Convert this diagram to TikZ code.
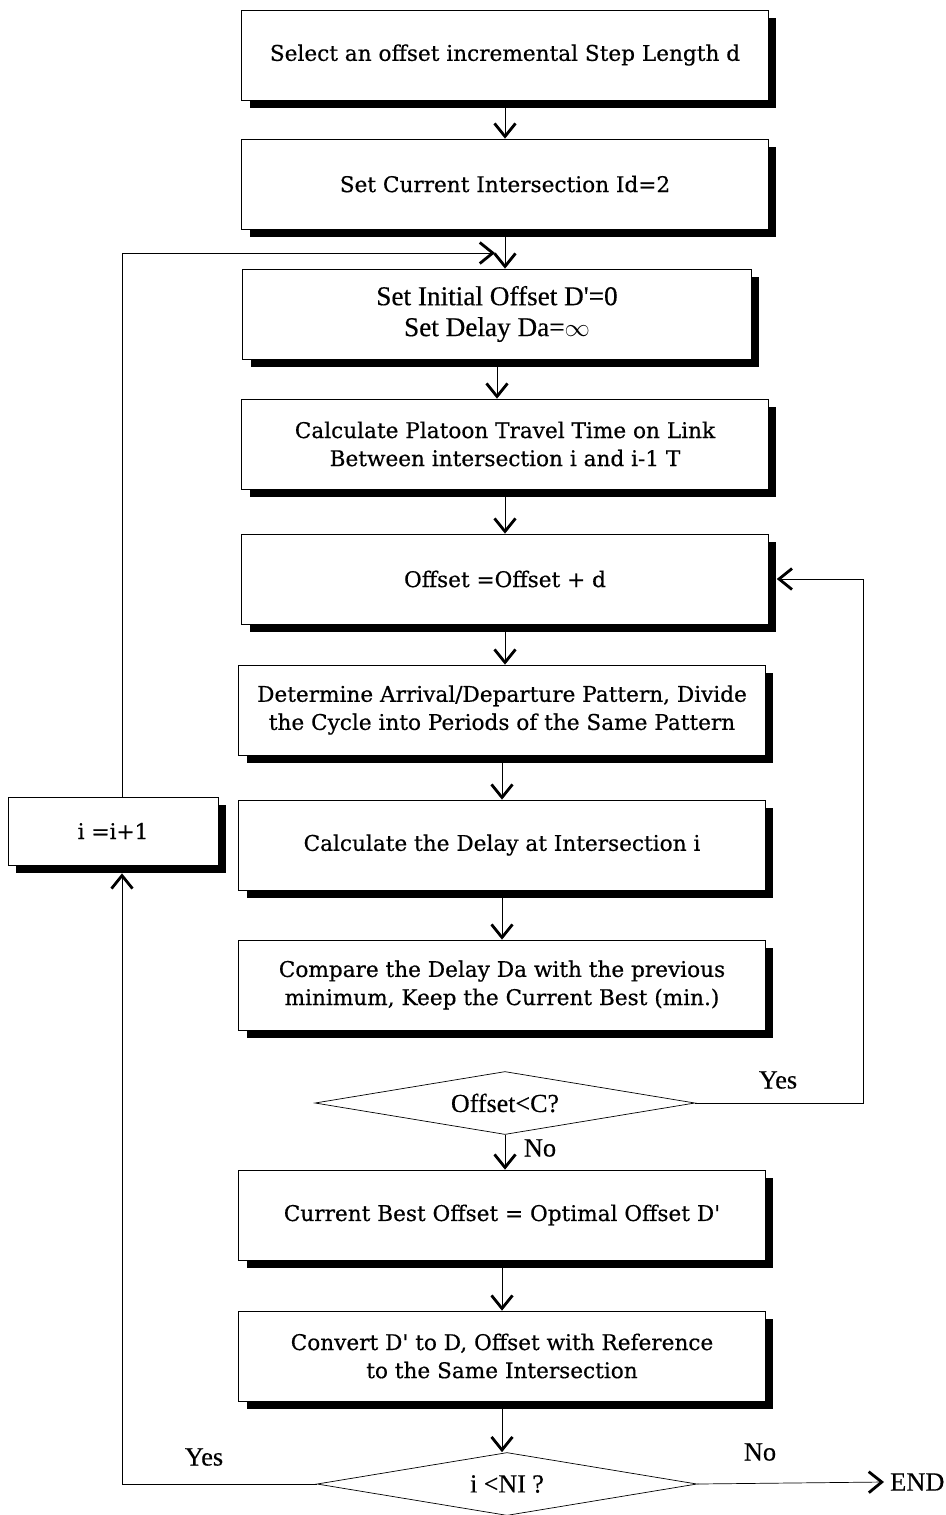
\documentclass[tikz,border=0pt]{standalone}
\usepackage{fontspec}
\setmainfont{DejaVu Serif}[Ligatures=TeXOff,FakeBold=0.5]
\newfontfamily\timesfont{Liberation Serif}[Ligatures=TeXOff,FakeBold=0.4]
\usetikzlibrary{shapes.geometric,shadows,arrows.meta}
\begin{document}
\begin{tikzpicture}[x=0.02cm,y=-0.02cm,
  stepbox/.style={draw,thin,fill=white,align=center,minimum width=10.54cm,minimum height=1.8cm,
    font=\fontsize{12.3}{16}\selectfont,
    drop shadow={shadow xshift=0.16cm,shadow yshift=-0.16cm,fill=black,opacity=1}},
  test/.style={draw,thin,diamond,aspect=6,minimum width=7.6cm,minimum height=1.26cm,inner sep=0pt,
    font=\timesfont\fontsize{14.8}{17}\selectfont},
  flow/.style={thin,-{Straight Barb[length=2.6mm,width=4.2mm,line width=1.6pt]}},
  lbl/.style={font=\timesfont\fontsize{15}{17}\selectfont}]
\useasboundingbox (0,0) rectangle (946,1515);
\node[stepbox] (sel) at (505,55) {Select an offset incremental Step Length d};
\node[stepbox] (cur) at (505,184) {Set Current Intersection Id=2};
\node[stepbox,minimum width=10.18cm,font=\timesfont\fontsize{15.5}{17.6}\selectfont] (init) at (497,314)
  {Set Initial Offset D'=0\\Set Delay Da=$\infty$};
\node[stepbox] (trav) at (505,444) {Calculate Platoon Travel Time on Link\\Between intersection i and i-1 T};
\node[stepbox] (offs) at (505,579) {Offset =Offset + d};
\node[stepbox] (patt) at (502,710) {Determine Arrival/Departure Pattern, Divide\\the Cycle into Periods of the Same Pattern};
\node[stepbox] (dly) at (502,845) {Calculate the Delay at Intersection i};
\node[stepbox] (cmp) at (502,985) {Compare the Delay Da with the previous\\minimum, Keep the Current Best (min.)};
\node[test] (lt) at (505,1103) {Offset<C?};
\node[stepbox] (best) at (502,1215) {Current Best Offset = Optimal Offset D'};
\node[stepbox] (conv) at (502,1356) {Convert D' to D, Offset with Reference\\to the Same Intersection};
\node[test] (more) at (507,1484) {i <NI ?};
\node[stepbox,minimum width=4.2cm,minimum height=1.36cm] (inc) at (113,831) {i =i+1};
\node[lbl,anchor=west] (fin) at (884,1482) {END};
\coordinate (yr) at (863,579);
\coordinate (yl) at (122,1484);
\coordinate (tl) at (122,253);
\coordinate (tj) at (495,253);
\coordinate (ib) at ([yshift=-0.16cm]inc.south);
\foreach \a/\b in {sel/cur,cur/init,init/trav,trav/offs,offs/patt,patt/dly,dly/cmp,best/conv,conv/more}
  \draw[flow] ([yshift=-0.16cm]\a.south) -- (\a.south |- \b.north);
\draw[flow] (lt.south) -- (lt.south |- best.north);
\draw[flow] (lt.east) -| (yr) -- ([xshift=0.16cm]offs.east);
\draw[flow] (more.east) -- (fin.west);
\draw[flow] (more.west) -- (yl) -- (yl |- ib);
\draw[flow] (tl |- inc.north) -- (tl) -- (tj);
\node[lbl] (yes1) at (778,1080) {Yes};
\node[lbl] (no1) at (540,1148) {No};
\node[lbl] (yes2) at (204,1457) {Yes};
\node[lbl] (no2) at (760,1452) {No};
\end{tikzpicture}
\end{document}
